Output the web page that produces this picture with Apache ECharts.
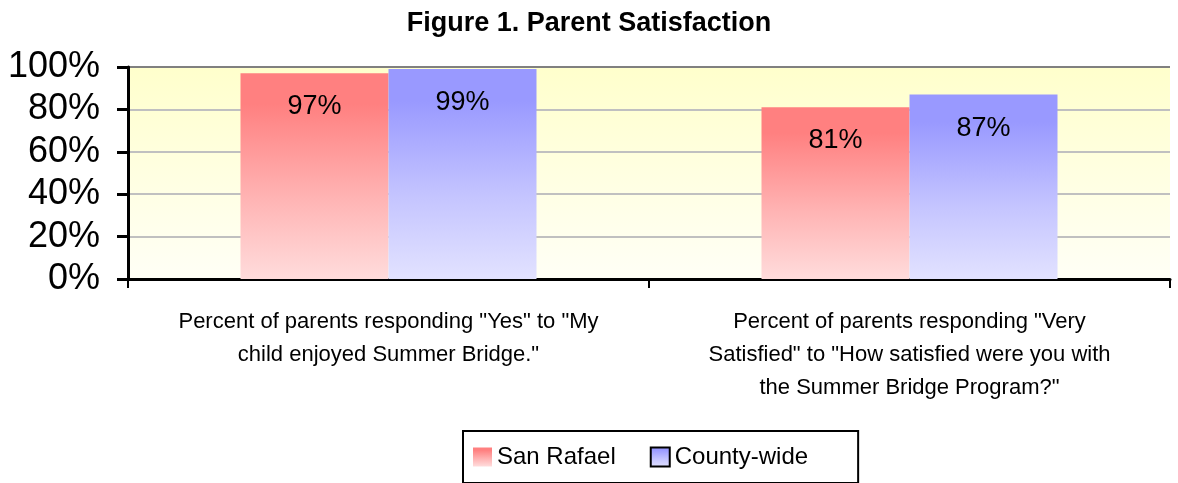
<!DOCTYPE html>
<html>
<head>
<meta charset="utf-8">
<script src="https://cdn.jsdelivr.net/npm/echarts@6/dist/echarts.min.js"></script>
<style>
  html, body { margin: 0; padding: 0; background: #fff; }
  #chart { width: 1178px; height: 483px; }
</style>
</head>
<body>
<div id="chart"></div>
<script>
// 数据
var categories = [
  'Percent of parents responding "Yes" to "My\nchild enjoyed Summer Bridge."',
  'Percent of parents responding "Very\nSatisfied" to "How satisfied were you with\nthe Summer Bridge Program?"'
];
var sanRafael = [97, 81];
var countyWide = [99, 87];
var seriesNames = ['San Rafael', 'County-wide'];

var font = '"Liberation Sans", Arial, sans-serif';

function barGradient(top, mid, bottom) {
  return new echarts.graphic.LinearGradient(0, 0, 0, 1, [
    { offset: 0, color: top },
    { offset: 0.15, color: top },
    { offset: 0.6, color: mid },
    { offset: 1, color: bottom }
  ]);
}

var myChart = echarts.init(document.getElementById('chart'));
var option = {
  animation: false,
  textStyle: { fontFamily: font },
  title: {
    text: 'Figure 1. Parent Satisfaction',
    left: 'center',
    top: 5,
    textStyle: { fontSize: 27, fontWeight: 'bold', color: '#000', fontFamily: font }
  },
  grid: {
    left: 128,
    right: 8,
    top: 67,
    height: 212,
    show: true,
    borderWidth: 0,
    backgroundColor: new echarts.graphic.LinearGradient(0, 0, 0, 1, [
      { offset: 0, color: '#FFFFCC' },
      { offset: 1, color: '#FFFFF6' }
    ])
  },
  legend: {
    left: 463,
    top: 431,
    padding: [14, 50, 14, 10],
    borderColor: '#000',
    borderWidth: 2,
    icon: 'rect',
    itemWidth: 19,
    itemHeight: 19,
    itemGap: 34,
    textStyle: { fontSize: 24, color: '#000', fontFamily: font },
    data: [
      { name: seriesNames[0], itemStyle: { borderWidth: 0 } },
      { name: seriesNames[1], itemStyle: { borderColor: '#000', borderWidth: 2 } }
    ]
  },
  xAxis: {
    type: 'category',
    data: categories,
    axisLine: { lineStyle: { color: '#000', width: 3 } },
    axisTick: { show: true, length: 9, lineStyle: { color: '#000', width: 2 } },
    axisLabel: {
      interval: 0,
      margin: 26,
      fontSize: 22,
      lineHeight: 33,
      color: '#000',
      fontFamily: font
    }
  },
  yAxis: {
    type: 'value',
    min: 0,
    max: 100,
    interval: 20,
    axisLine: { show: true, lineStyle: { color: '#000', width: 3 } },
    axisTick: { show: true, length: 11, lineStyle: { color: '#000', width: 3 } },
    axisLabel: {
      formatter: '{value}%',
      fontSize: 36,
      margin: 28,
      color: '#000',
      fontFamily: font
    },
    splitLine: {
      show: true,
      lineStyle: {
        color: ['#C0C0C0', '#C0C0C0', '#C0C0C0', '#C0C0C0', '#C0C0C0', '#808080'],
        width: 2
      }
    }
  },
  series: [
    {
      name: seriesNames[0],
      type: 'bar',
      data: sanRafael,
      barWidth: 148,
      barGap: '0%',
      itemStyle: { color: barGradient('#FF8080', '#FFB3B3', '#FFDCDC') },
      label: {
        show: true,
        position: 'insideTop',
        distance: 20,
        formatter: '{c}%',
        fontSize: 27,
        color: '#000',
        fontFamily: font
      }
    },
    {
      name: seriesNames[1],
      type: 'bar',
      data: countyWide,
      barWidth: 148,
      itemStyle: { color: barGradient('#9999FF', '#C4C4FF', '#E2E2FF') },
      label: {
        show: true,
        position: 'insideTop',
        distance: 20,
        formatter: '{c}%',
        fontSize: 27,
        color: '#000',
        fontFamily: font
      }
    }
  ]
};
myChart.setOption(option);
</script>
</body>
</html>
